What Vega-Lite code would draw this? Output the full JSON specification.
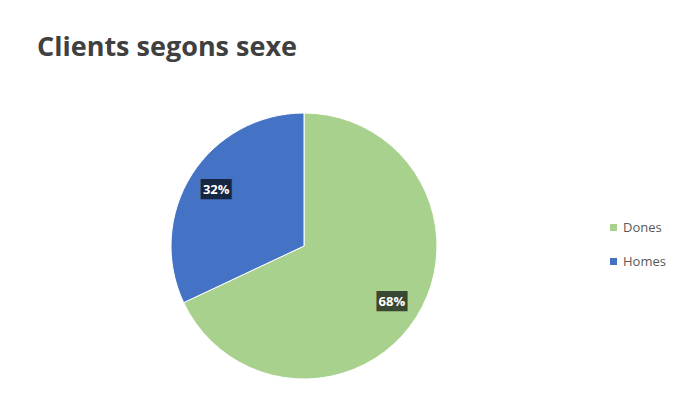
{
  "$schema": "https://vega.github.io/schema/vega-lite/v6.json",
  "width": 594,
  "height": 470,
  "padding": {"left": 7, "top": 11, "right": 0, "bottom": 0},
  "background": "white",
  "config": {"view": {"stroke": null}},
  "title": {
    "text": "Clients segons sexe",
    "anchor": "start",
    "frame": "group",
    "font": "Open Sans",
    "fontSize": 27,
    "fontWeight": "bold",
    "color": "#404040",
    "baseline": "alphabetic",
    "offset": -72,
    "dx": 30
  },
  "data": {
    "values": [
      {"i": 1, "sexe": "Dones", "pct": 68, "label": "68%"},
      {"i": 2, "sexe": "Homes", "pct": 32, "label": "32%"}
    ]
  },
  "encoding": {
    "theta": {"field": "pct", "type": "quantitative", "stack": true},
    "order": {"field": "i", "type": "quantitative"}
  },
  "layer": [
    {
      "mark": {"type": "arc", "outerRadius": 133, "stroke": "white", "strokeWidth": 1},
      "encoding": {
        "color": {
          "field": "sexe",
          "type": "nominal",
          "scale": {"domain": ["Dones", "Homes"], "range": ["#A9D18E", "#4472C4"]},
          "legend": {
            "title": null,
            "orient": "none",
            "legendX": 600,
            "legendY": 210,
            "symbolType": "square",
            "symbolSize": 49,
            "symbolStrokeWidth": 0,
            "labelFont": "Open Sans",
            "labelFontSize": 13,
            "labelColor": "#595959",
            "rowPadding": 20,
            "labelOffset": 3
          }
        }
      }
    },
    {
      "mark": {"type": "text", "radius": 104, "text": "███", "font": "DejaVu Sans Mono", "fontSize": 17, "color": "black", "opacity": 0.66, "baseline": "middle", "align": "center"},
      "encoding": {}
    },
    {
      "mark": {"type": "text", "radius": 104, "font": "Open Sans", "fontSize": 13, "fontWeight": "bold", "color": "white", "baseline": "middle", "align": "center"},
      "encoding": {"text": {"field": "label"}}
    }
  ]
}
